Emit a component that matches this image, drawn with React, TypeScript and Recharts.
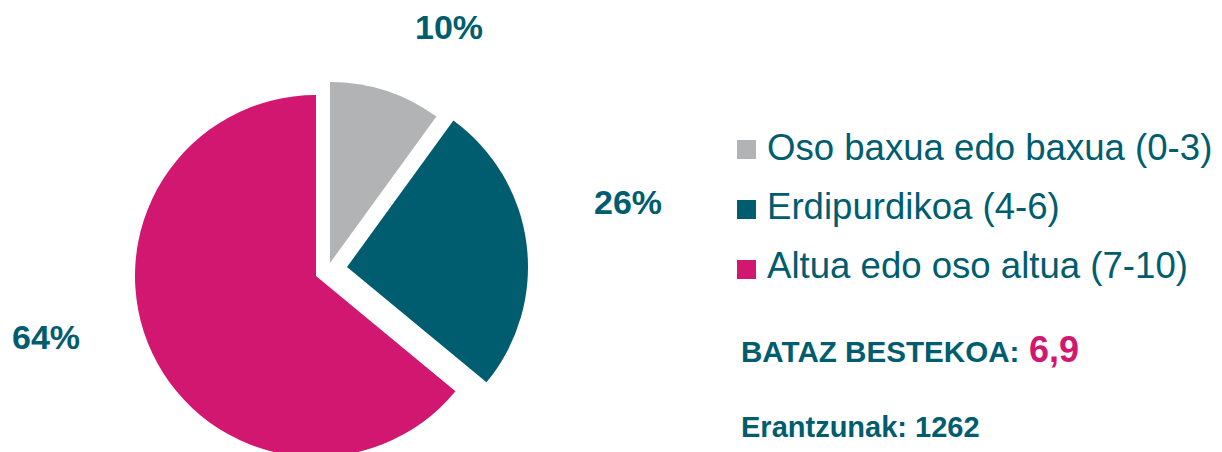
import { PieChart, Pie, Cell, Legend } from 'recharts';

// score bands and share of answers (%)
const categories = ['Oso baxua edo baxua (0-3)', 'Erdipurdikoa (4-6)', 'Altua edo oso altua (7-10)'];
const shares = [10, 26, 64];
const average = '6,9';
const responses = 1262;

const COLORS = ['#b1b3b5', '#005d70', '#d1176f'];
const TEAL = '#005d70';
const MAGENTA = '#d1176f';
const FONT = '"Liberation Sans", Arial, sans-serif';

// each slice is pulled out of the pie a little, so it gets its own centre
const SLICE_CENTERS = [
  { cx: 330, cy: 263 },
  { cx: 347, cy: 267 },
  { cx: 316, cy: 276 },
];
const LABEL_POS = [
  { x: 449, y: 39 },
  { x: 628, y: 214 },
  { x: 46, y: 349 },
];

const chartData = categories.map((name, i) => ({ name, value: shares[i], color: COLORS[i] }));

function LegendContent() {
  return (
    <svg width={490} height={330} style={{ display: 'block', overflow: 'visible' }}>
      {chartData.map((entry, i) => (
        <g key={entry.name}>
          <rect x={7} y={15 + i * 60} width={19} height={19} fill={entry.color} />
          <text x={37} y={35 + i * 59} fontFamily={FONT} fontSize={36.6} fill={TEAL}>
            {entry.name}
          </text>
        </g>
      ))}
      <text x={11} y={237} fontFamily={FONT} fontSize={29.6} fontWeight="bold" fill={TEAL}>
        BATAZ BESTEKOA:
      </text>
      <text x={299} y={237} fontFamily={FONT} fontSize={36} fontWeight="bold" fill={MAGENTA}>
        {average}
      </text>
      <text x={11} y={312} fontFamily={FONT} fontSize={29} fontWeight="bold" fill={TEAL}>
        {`Erantzunak: ${responses}`}
      </text>
    </svg>
  );
}

export default function App() {
  return (
    <div style={{ position: 'absolute', left: 0, top: 0, width: 1222, height: 452, background: '#fff' }}>
      <PieChart width={1222} height={452} margin={{ top: 0, right: 0, bottom: 0, left: 0 }}>
        {SLICE_CENTERS.map((c, k) => (
          <Pie
            key={`pie-${k}`}
            data={chartData}
            dataKey="value"
            cx={c.cx}
            cy={c.cy}
            innerRadius={0}
            outerRadius={181}
            startAngle={90}
            endAngle={-270}
            stroke="none"
            labelLine={false}
            isAnimationActive={false}
            label={(props: any) =>
              props.index === k ? (
                <text
                  x={LABEL_POS[k].x}
                  y={LABEL_POS[k].y}
                  textAnchor="middle"
                  fontFamily={FONT}
                  fontSize={34}
                  fontWeight="bold"
                  fill={TEAL}
                >
                  {`${chartData[k].value}%`}
                </text>
              ) : null
            }
          >
            {chartData.map((entry, i) => (
              <Cell key={`cell-${i}`} fill={i === k ? entry.color : 'transparent'} />
            ))}
          </Pie>
        ))}
        <Legend
          content={() => <LegendContent />}
          wrapperStyle={{ left: 730, top: 125, width: 490, height: 330 }}
        />
      </PieChart>
    </div>
  );
}
